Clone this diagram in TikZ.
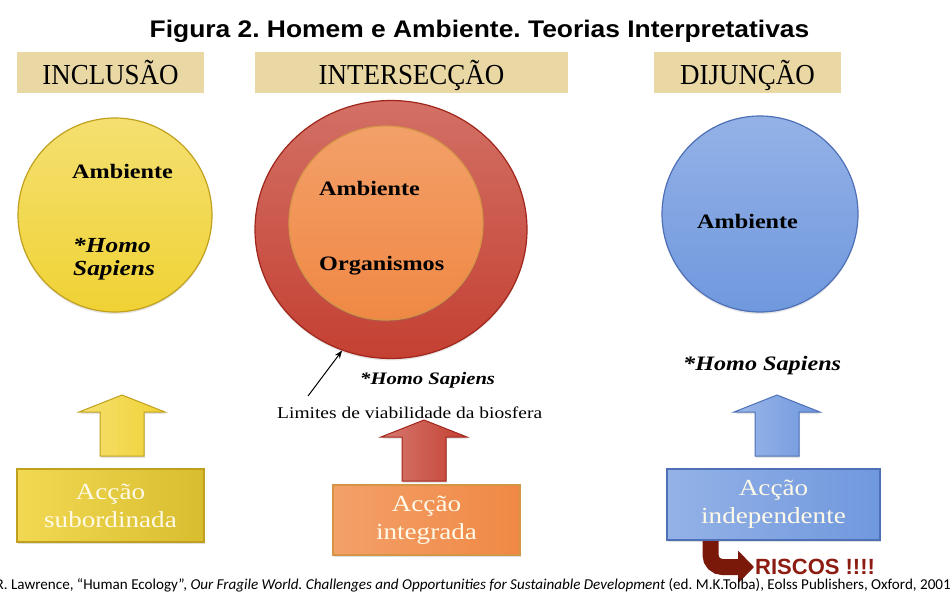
\documentclass[tikz,border=0pt]{standalone}
\usepackage{fontspec}
\setmainfont{Liberation Serif}
\newfontfamily\titlefont[FakeStretch=1.1]{Liberation Sans}
\newfontfamily\riskfont{Liberation Sans}
\newfontfamily\headfont[FakeStretch=0.93]{Liberation Serif}
\newfontfamily\widefont[FakeStretch=1.18]{Liberation Serif}
\newfontfamily\notefont{Carlito}
\usetikzlibrary{arrows.meta, positioning, shapes.geometric, shadows}
\definecolor{headtan}{RGB}{234, 216, 164}
\definecolor{sunyellow}{RGB}{240, 210, 52}
\definecolor{sunedge}{RGB}{192, 160, 28}
\definecolor{ringred}{RGB}{196, 64, 50}
\definecolor{ringedge}{RGB}{160, 38, 28}
\definecolor{coreorange}{RGB}{240, 136, 68}
\definecolor{coreedge}{RGB}{212, 150, 70}
\definecolor{skyblue}{RGB}{112, 152, 222}
\definecolor{skyedge}{RGB}{78, 112, 182}
\definecolor{boxtext}{RGB}{255, 250, 232}
\definecolor{riskdark}{RGB}{122, 24, 10}
\definecolor{risktext}{RGB}{140, 28, 18}
\frenchspacing

\begin{document}
\begin{tikzpicture}[x=1pt, y=-1pt,
        headbox/.style={fill=headtan, minimum height=41pt, inner sep=0pt,
            text height=23pt, text depth=0pt,
            font=\headfont\fontsize{29}{34}\selectfont},
        bigdisc/.style={circle, minimum size=194pt, inner sep=0pt, line width=1.2pt,
            drop shadow={opacity=0.2, shadow xshift=0pt, shadow yshift=-2pt}},
        disclabel/.style={anchor=base west, inner sep=0pt,
            font=\widefont\bfseries\fontsize{20.5}{24}\selectfont},
        homolabel/.style={anchor=base west, inner sep=0pt,
            font=\widefont\bfseries\itshape\fontsize{20.5}{24}\selectfont},
        actionbox/.style={rectangle, line width=2pt, inner sep=0pt, align=center,
            text=boxtext, font=\widefont\fontsize{23}{28}\selectfont,
            drop shadow={opacity=0.25, shadow xshift=1pt, shadow yshift=-2pt}},
        uparrow/.style={line width=1pt,
            drop shadow={opacity=0.2, shadow xshift=1pt, shadow yshift=-2pt}}
    ]
        \useasboundingbox (0,0) rectangle (952,597);
        \fill[white] (0,0) rectangle (952,597);
        \clip (0,0) rectangle (952,597);

        % Title
        \node[anchor=base, font=\titlefont\bfseries\fontsize{24}{28}\selectfont]
            (title) at (479.5,37) {Figura 2. Homem e Ambiente. Teorias Interpretativas};

        % Column headers
        \node[headbox, minimum width=187pt] (inclhead) at (110.5,72.5) {INCLUSÃO};
        \node[headbox, minimum width=313pt] (interhead) at (411.5,72.5) {INTERSECÇÃO};
        \node[headbox, minimum width=187pt] (disjhead) at (747.5,72.5) {DIJUNÇÃO};

        % Inclusion disc
        \node[bigdisc, draw=sunedge, top color=sunyellow!70!white, bottom color=sunyellow]
            (incldisc) at (115,215) {};
        \node[disclabel] (inclamb) at (72,178) {Ambiente};
        \node[homolabel, font=\widefont\bfseries\itshape\fontsize{21.5}{24}\selectfont]
            (inclhomo) at (73,252) {*Homo};
        \node[homolabel, font=\widefont\bfseries\itshape\fontsize{21.5}{24}\selectfont]
            (inclsap) at ([yshift=-23pt]inclhomo.base west) {Sapiens};

        % Intersection rings
        \node[ellipse, minimum width=272pt, minimum height=258pt, inner sep=0pt,
            draw=ringedge, line width=1.2pt, top color=ringred!75!white, bottom color=ringred,
            drop shadow={opacity=0.2, shadow xshift=0pt, shadow yshift=-2pt}]
            (ring) at (391,229.5) {};
        \node[bigdisc, draw=coreedge, top color=coreorange!80!white, bottom color=coreorange]
            (core) at (386,223) {};
        \node[disclabel] (coreamb) at (319,195) {Ambiente};
        \node[disclabel] (coreorg) at (319,270) {Organismos};
        \node[homolabel, font=\widefont\bfseries\itshape\fontsize{17.5}{21}\selectfont]
            (ringhomo) at (360,384) {*Homo Sapiens};
        \node[anchor=base west, inner sep=0pt, font=\widefont\fontsize{16.5}{20}\selectfont]
            (limits) at (277,418) {Limites de viabilidade da biosfera};
        \coordinate (ptrtail) at (308,396);
        \draw[-{Stealth[length=8pt, width=6pt]}, line width=1pt] (ptrtail) -- (ring.248);

        % Disjunction disc
        \node[bigdisc, minimum size=196pt, draw=skyedge, top color=skyblue!75!white, bottom color=skyblue]
            (disjdisc) at (760,214) {};
        \node[disclabel] (disjamb) at (697,228) {Ambiente};
        \node[homolabel] (disjhomo) at (683,370) {*Homo Sapiens};

        % Block arrows
        \foreach \tipx/\tipy/\fillc/\edgec in {122/395/sunyellow/sunedge,
                424/420/ringred/ringedge, 777/395/skyblue/skyedge} {
            \draw[uparrow, draw=\edgec, left color=\fillc!70!white, right color=\fillc]
                (\tipx,\tipy) -- ++(43,17) -- ++(-21,0) -- ++(0,44) -- ++(-44,0)
                -- ++(0,-44) -- ++(-21,0) -- cycle;
        }

        % Action boxes
        \node[actionbox, minimum width=187pt, minimum height=73pt, draw=sunedge,
            left color=sunyellow!85!white, right color=sunyellow!90!black]
            (inclact) at (110.5,505.5) {Acção\\subordinada};
        \node[actionbox, minimum width=187pt, minimum height=70pt, draw=coreedge,
            left color=coreorange!80!white, right color=coreorange]
            (interact) at (426.5,520) {Acção\\integrada};
        \node[actionbox, minimum width=213pt, minimum height=71pt, draw=skyedge,
            left color=skyblue!75!white, right color=skyblue]
            (disjact) at (773.5,504.5) {Acção\\independente};

        % Risks
        \node[anchor=west, inner sep=1pt, text=risktext,
            font=\riskfont\bfseries\fontsize{22}{26}\selectfont]
            (riscos) at (754,567) {RISCOS !!!!};
        \draw[line width=16pt, draw=riskdark, rounded corners=12pt,
            -{Triangle[length=16pt, width=32pt]}]
            ([xshift=-63pt]disjact.south) |- (riscos.west);

        % Source
        \node[anchor=base east, inner sep=0pt, font=\notefont\fontsize{15.1}{18}\selectfont]
            (source) at (951,589) {R. Lawrence, “Human Ecology”, \textit{Our Fragile World. Challenges and Opportunities for Sustainable Development} (ed. M.K.Tolba), Eolss Publishers, Oxford, 2001};
    \end{tikzpicture}
\end{document}
